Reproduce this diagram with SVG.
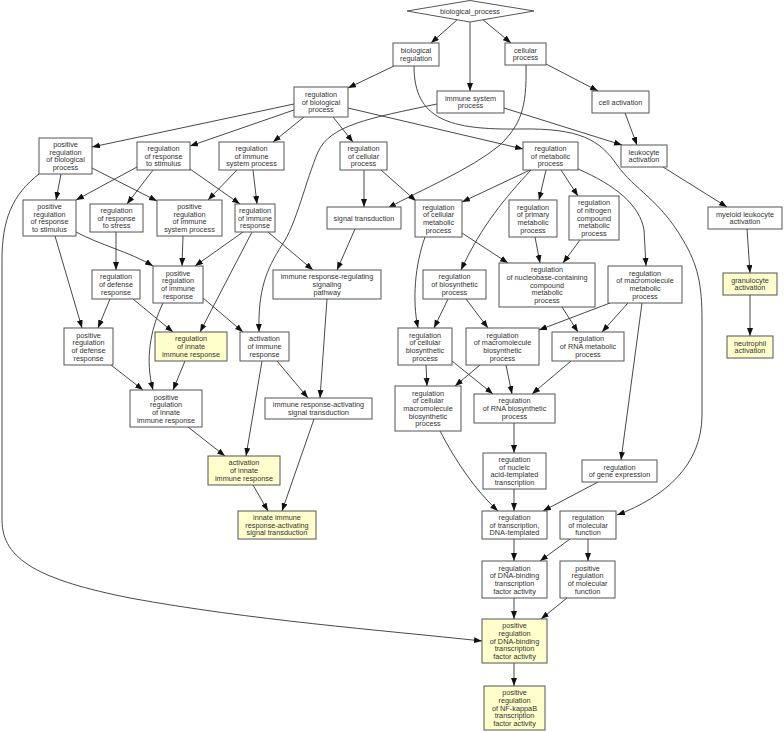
<svg xmlns="http://www.w3.org/2000/svg" width="784" height="731" viewBox="0 0 784 731">
<style>
rect,polygon{fill:#fff;stroke:#555;stroke-width:1}
.y rect{fill:#ffffcc}
text{font-family:"Liberation Sans",Arial,sans-serif;font-size:7.3px;fill:#333;text-anchor:middle}
#edges path{fill:none;stroke:#333;stroke-width:0.9;marker-end:url(#a)}
</style>
<defs>
<marker id="a" markerUnits="userSpaceOnUse" markerWidth="9" markerHeight="7" refX="8" refY="3" orient="auto">
<path d="M0,0 L8,3 L0,6 z" fill="#111"/>
</marker>
</defs>
<rect x="0" y="0" width="784" height="731" style="fill:#fff;stroke:none"/>
<g id="edges">
<path d="M458,19 L431,43"/>
<path d="M470,22 L470,91"/>
<path d="M482,19 L511,43"/>
<path d="M394,66 L348,88"/>
<path d="M414,66 C414,120 450,130 520,129 C580,128 600,140 617,165 C635,190 660,200 683,240 C698,265 702,285 702,320 L702,415 C702,465 665,497 617,515"/>
<path d="M546,64 L598,91"/>
<path d="M526,65 C527,110 520,125 500,145 C470,170 420,190 388,208"/>
<path d="M625,113 L637,145"/>
<path d="M663,167 L727,207"/>
<path d="M504,108 L622,145"/>
<path d="M437,104 C370,118 330,125 318,152 C306,180 296,225 282,245 C266,270 258,290 259,332"/>
<path d="M294,104 L92,147"/>
<path d="M294,110 L190,146"/>
<path d="M304,117 L273,142"/>
<path d="M333,117 L353,142"/>
<path d="M348,108 L523,149"/>
<path d="M61,174 L56,200"/>
<path d="M92,168 L157,201"/>
<path d="M39,174 C12,195 2,220 2,260 L2,520 C2,560 40,580 130,598 C250,620 380,630 482,641"/>
<path d="M137,167 L76,200"/>
<path d="M153,170 L127,204"/>
<path d="M190,169 L240,204"/>
<path d="M237,170 L208,200"/>
<path d="M253,170 L257,204"/>
<path d="M364,170 L364,207"/>
<path d="M381,170 L416,201"/>
<path d="M530,170 L462,202"/>
<path d="M546,170 L539,200"/>
<path d="M561,170 L578,196"/>
<path d="M531,170 C505,198 482,225 461,270"/>
<path d="M425,237 C415,265 412,300 418,328"/>
<path d="M462,233 L508,263"/>
<path d="M535,237 L540,263"/>
<path d="M580,240 L563,263"/>
<path d="M578,169 C615,185 640,205 644,230 L646,266"/>
<path d="M243,232 L195,266"/>
<path d="M252,232 L200,332"/>
<path d="M268,232 L313,270"/>
<path d="M55,236 L82,328"/>
<path d="M76,232 C100,245 130,252 153,266"/>
<path d="M116,232 L116,270"/>
<path d="M183,236 L182,266"/>
<path d="M355,229 L337,270"/>
<path d="M110,299 L98,328"/>
<path d="M133,299 L173,332"/>
<path d="M163,303 C150,330 145,360 153,390"/>
<path d="M203,298 L243,332"/>
<path d="M327,299 L320,398"/>
<path d="M111,365 L143,390"/>
<path d="M185,361 L173,390"/>
<path d="M277,361 L308,398"/>
<path d="M262,361 L246,456"/>
<path d="M188,427 L225,456"/>
<path d="M253,485 L268,511"/>
<path d="M314,419 L282,511"/>
<path d="M448,299 L434,328"/>
<path d="M466,299 L488,328"/>
<path d="M562,307 L578,332"/>
<path d="M610,303 L539,330"/>
<path d="M628,303 L602,332"/>
<path d="M642,303 L621,460"/>
<path d="M426,365 L427,386"/>
<path d="M452,361 L493,394"/>
<path d="M480,365 L455,386"/>
<path d="M506,365 L512,394"/>
<path d="M571,361 L532,394"/>
<path d="M514,423 L514,453"/>
<path d="M440,431 C455,460 475,490 498,511"/>
<path d="M514,489 L514,511"/>
<path d="M598,482 L543,511"/>
<path d="M514,539 L514,561"/>
<path d="M570,539 L540,561"/>
<path d="M588,539 L588,561"/>
<path d="M514,598 L514,619"/>
<path d="M567,598 L541,619"/>
<path d="M514,663 L514,686"/>
<path d="M747,229 L750,273"/>
<path d="M750,295 L750,336"/>
</g>
<g id="n1"><polygon points="407,11 470,0.5 534,11 470,22"/><text x="470" y="14">biological_process</text></g>
<g id="n2"><rect x="393" y="43" width="46" height="23"/><text><tspan x="416" y="53.2">biological</tspan><tspan x="416" y="60.9">regulation</tspan></text></g>
<g id="n3"><rect x="505" y="43" width="41" height="22"/><text><tspan x="525.5" y="52.7">cellular</tspan><tspan x="525.5" y="60.4">process</tspan></text></g>
<g id="n4"><rect x="437" y="91" width="67" height="22"/><text><tspan x="470.5" y="100.7">immune system</tspan><tspan x="470.5" y="108.4">process</tspan></text></g>
<g id="n5"><rect x="592" y="91" width="57" height="22"/><text x="620.5" y="104.5">cell activation</text></g>
<g id="n6"><rect x="294" y="87" width="54" height="30"/><text><tspan x="321" y="96.8">regulation</tspan><tspan x="321" y="104.5">of biological</tspan><tspan x="321" y="112.2">process</tspan></text></g>
<g id="n7"><rect x="39" y="138" width="53" height="36"/><text><tspan x="65.5" y="147">positive</tspan><tspan x="65.5" y="154.7">regulation</tspan><tspan x="65.5" y="162.4">of biological</tspan><tspan x="65.5" y="170.1">process</tspan></text></g>
<g id="n8"><rect x="137" y="142" width="53" height="28"/><text><tspan x="163.5" y="150.8">regulation</tspan><tspan x="163.5" y="158.5">of response</tspan><tspan x="163.5" y="166.2">to stimulus</tspan></text></g>
<g id="n9"><rect x="219" y="142" width="65" height="28"/><text><tspan x="251.5" y="150.8">regulation</tspan><tspan x="251.5" y="158.5">of immune</tspan><tspan x="251.5" y="166.2">system process</tspan></text></g>
<g id="n10"><rect x="340" y="142" width="47" height="28"/><text><tspan x="363.5" y="150.8">regulation</tspan><tspan x="363.5" y="158.5">of cellular</tspan><tspan x="363.5" y="166.2">process</tspan></text></g>
<g id="n11"><rect x="523" y="142" width="55" height="28"/><text><tspan x="550.5" y="150.8">regulation</tspan><tspan x="550.5" y="158.5">of metabolic</tspan><tspan x="550.5" y="166.2">process</tspan></text></g>
<g id="n12"><rect x="621" y="145" width="46" height="22"/><text><tspan x="644" y="154.7">leukocyte</tspan><tspan x="644" y="162.4">activation</tspan></text></g>
<g id="n13"><rect x="23" y="200" width="53" height="36"/><text><tspan x="49.5" y="209">positive</tspan><tspan x="49.5" y="216.7">regulation</tspan><tspan x="49.5" y="224.4">of response</tspan><tspan x="49.5" y="232.1">to stimulus</tspan></text></g>
<g id="n14"><rect x="90" y="204" width="53" height="28"/><text><tspan x="116.5" y="212.8">regulation</tspan><tspan x="116.5" y="220.5">of response</tspan><tspan x="116.5" y="228.2">to stress</tspan></text></g>
<g id="n15"><rect x="157" y="200" width="65" height="36"/><text><tspan x="189.5" y="209">positive</tspan><tspan x="189.5" y="216.7">regulation</tspan><tspan x="189.5" y="224.4">of immune</tspan><tspan x="189.5" y="232.1">system process</tspan></text></g>
<g id="n16"><rect x="235" y="204" width="40" height="28"/><text><tspan x="255" y="212.8">regulation</tspan><tspan x="255" y="220.5">of immune</tspan><tspan x="255" y="228.2">response</tspan></text></g>
<g id="n17"><rect x="327" y="207" width="74" height="22"/><text x="364" y="220.5">signal transduction</text></g>
<g id="n18"><rect x="415" y="200" width="47" height="37"/><text><tspan x="438.5" y="209.5">regulation</tspan><tspan x="438.5" y="217.2">of cellular</tspan><tspan x="438.5" y="224.9">metabolic</tspan><tspan x="438.5" y="232.6">process</tspan></text></g>
<g id="n19"><rect x="509" y="200" width="48" height="37"/><text><tspan x="533" y="209.5">regulation</tspan><tspan x="533" y="217.2">of primary</tspan><tspan x="533" y="224.9">metabolic</tspan><tspan x="533" y="232.6">process</tspan></text></g>
<g id="n20"><rect x="569" y="196" width="50" height="44"/><text><tspan x="594" y="205.1">regulation</tspan><tspan x="594" y="212.8">of nitrogen</tspan><tspan x="594" y="220.5">compound</tspan><tspan x="594" y="228.2">metabolic</tspan><tspan x="594" y="235.9">process</tspan></text></g>
<g id="n21"><rect x="708" y="207" width="74" height="22"/><text><tspan x="745" y="216.7">myeloid leukocyte</tspan><tspan x="745" y="224.4">activation</tspan></text></g>
<g id="n22"><rect x="92" y="270" width="48" height="29"/><text><tspan x="116" y="279.3">regulation</tspan><tspan x="116" y="287">of defense</tspan><tspan x="116" y="294.7">response</tspan></text></g>
<g id="n23"><rect x="153" y="266" width="50" height="37"/><text><tspan x="178" y="275.5">positive</tspan><tspan x="178" y="283.2">regulation</tspan><tspan x="178" y="290.9">of immune</tspan><tspan x="178" y="298.6">response</tspan></text></g>
<g id="n24"><rect x="273" y="270" width="108" height="29"/><text><tspan x="327" y="279.3">immune response-regulating</tspan><tspan x="327" y="287">signaling</tspan><tspan x="327" y="294.7">pathway</tspan></text></g>
<g id="n25"><rect x="423" y="270" width="63" height="29"/><text><tspan x="454.5" y="279.3">regulation</tspan><tspan x="454.5" y="287">of biosynthetic</tspan><tspan x="454.5" y="294.7">process</tspan></text></g>
<g id="n26"><rect x="499" y="263" width="96" height="44"/><text><tspan x="547" y="272.1">regulation</tspan><tspan x="547" y="279.8">of nucleobase-containing</tspan><tspan x="547" y="287.5">compound</tspan><tspan x="547" y="295.2">metabolic</tspan><tspan x="547" y="302.9">process</tspan></text></g>
<g id="n27"><rect x="608" y="266" width="74" height="37"/><text><tspan x="645" y="275.5">regulation</tspan><tspan x="645" y="283.2">of macromolecule</tspan><tspan x="645" y="290.9">metabolic</tspan><tspan x="645" y="298.6">process</tspan></text></g>
<g id="n28" class="y"><rect x="723" y="273" width="54" height="22"/><text><tspan x="750" y="282.7">granulocyte</tspan><tspan x="750" y="290.4">activation</tspan></text></g>
<g id="n29"><rect x="64" y="328" width="49" height="37"/><text><tspan x="88.5" y="337.5">positive</tspan><tspan x="88.5" y="345.2">regulation</tspan><tspan x="88.5" y="352.9">of defense</tspan><tspan x="88.5" y="360.6">response</tspan></text></g>
<g id="n30" class="y"><rect x="155" y="332" width="72" height="29"/><text><tspan x="191" y="341.3">regulation</tspan><tspan x="191" y="349">of innate</tspan><tspan x="191" y="356.7">immune response</tspan></text></g>
<g id="n31"><rect x="240" y="332" width="49" height="29"/><text><tspan x="264.5" y="341.3">activation</tspan><tspan x="264.5" y="349">of immune</tspan><tspan x="264.5" y="356.7">response</tspan></text></g>
<g id="n32"><rect x="398" y="328" width="54" height="37"/><text><tspan x="425" y="337.5">regulation</tspan><tspan x="425" y="345.2">of cellular</tspan><tspan x="425" y="352.9">biosynthetic</tspan><tspan x="425" y="360.6">process</tspan></text></g>
<g id="n33"><rect x="466" y="328" width="73" height="37"/><text><tspan x="502.5" y="337.5">regulation</tspan><tspan x="502.5" y="345.2">of macromolecule</tspan><tspan x="502.5" y="352.9">biosynthetic</tspan><tspan x="502.5" y="360.6">process</tspan></text></g>
<g id="n34"><rect x="552" y="332" width="72" height="29"/><text><tspan x="588" y="341.3">regulation</tspan><tspan x="588" y="349">of RNA metabolic</tspan><tspan x="588" y="356.7">process</tspan></text></g>
<g id="n35" class="y"><rect x="727" y="336" width="46" height="22"/><text><tspan x="750" y="345.7">neutrophil</tspan><tspan x="750" y="353.4">activation</tspan></text></g>
<g id="n36"><rect x="130" y="390" width="72" height="37"/><text><tspan x="166" y="399.5">positive</tspan><tspan x="166" y="407.2">regulation</tspan><tspan x="166" y="414.9">of innate</tspan><tspan x="166" y="422.6">immune response</tspan></text></g>
<g id="n37"><rect x="265" y="398" width="107" height="21"/><text><tspan x="318.5" y="407.2">immune response-activating</tspan><tspan x="318.5" y="414.9">signal transduction</tspan></text></g>
<g id="n38"><rect x="395" y="386" width="66" height="45"/><text><tspan x="428" y="395.6">regulation</tspan><tspan x="428" y="403.3">of cellular</tspan><tspan x="428" y="411">macromolecule</tspan><tspan x="428" y="418.7">biosynthetic</tspan><tspan x="428" y="426.4">process</tspan></text></g>
<g id="n39"><rect x="474" y="394" width="81" height="29"/><text><tspan x="514.5" y="403.3">regulation</tspan><tspan x="514.5" y="411">of RNA biosynthetic</tspan><tspan x="514.5" y="418.7">process</tspan></text></g>
<g id="n40"><rect x="483" y="453" width="63" height="36"/><text><tspan x="514.5" y="462">regulation</tspan><tspan x="514.5" y="469.7">of nucleic</tspan><tspan x="514.5" y="477.4">acid-templated</tspan><tspan x="514.5" y="485.1">transcription</tspan></text></g>
<g id="n41"><rect x="582" y="460" width="75" height="22"/><text><tspan x="619.5" y="469.7">regulation</tspan><tspan x="619.5" y="477.4">of gene expression</tspan></text></g>
<g id="n42" class="y"><rect x="208" y="456" width="72" height="29"/><text><tspan x="244" y="465.3">activation</tspan><tspan x="244" y="473">of innate</tspan><tspan x="244" y="480.7">immune response</tspan></text></g>
<g id="n43" class="y"><rect x="238" y="511" width="78" height="28"/><text><tspan x="277" y="519.8">innate immune</tspan><tspan x="277" y="527.5">response-activating</tspan><tspan x="277" y="535.2">signal transduction</tspan></text></g>
<g id="n44"><rect x="482" y="511" width="65" height="28"/><text><tspan x="514.5" y="519.8">regulation</tspan><tspan x="514.5" y="527.5">of transcription,</tspan><tspan x="514.5" y="535.2">DNA-templated</tspan></text></g>
<g id="n45"><rect x="560" y="511" width="56" height="28"/><text><tspan x="588" y="519.8">regulation</tspan><tspan x="588" y="527.5">of molecular</tspan><tspan x="588" y="535.2">function</tspan></text></g>
<g id="n46"><rect x="482" y="561" width="65" height="37"/><text><tspan x="514.5" y="570.5">regulation</tspan><tspan x="514.5" y="578.2">of DNA-binding</tspan><tspan x="514.5" y="585.9">transcription</tspan><tspan x="514.5" y="593.6">factor activity</tspan></text></g>
<g id="n47"><rect x="560" y="561" width="55" height="37"/><text><tspan x="587.5" y="570.5">positive</tspan><tspan x="587.5" y="578.2">regulation</tspan><tspan x="587.5" y="585.9">of molecular</tspan><tspan x="587.5" y="593.6">function</tspan></text></g>
<g id="n48" class="y"><rect x="482" y="619" width="65" height="44"/><text><tspan x="514.5" y="628.1">positive</tspan><tspan x="514.5" y="635.8">regulation</tspan><tspan x="514.5" y="643.5">of DNA-binding</tspan><tspan x="514.5" y="651.2">transcription</tspan><tspan x="514.5" y="658.9">factor activity</tspan></text></g>
<g id="n49" class="y"><rect x="484" y="686" width="61" height="44"/><text><tspan x="514.5" y="695.1">positive</tspan><tspan x="514.5" y="702.8">regulation</tspan><tspan x="514.5" y="710.5">of NF-kappaB</tspan><tspan x="514.5" y="718.2">transcription</tspan><tspan x="514.5" y="725.9">factor activity</tspan></text></g>
</svg>
